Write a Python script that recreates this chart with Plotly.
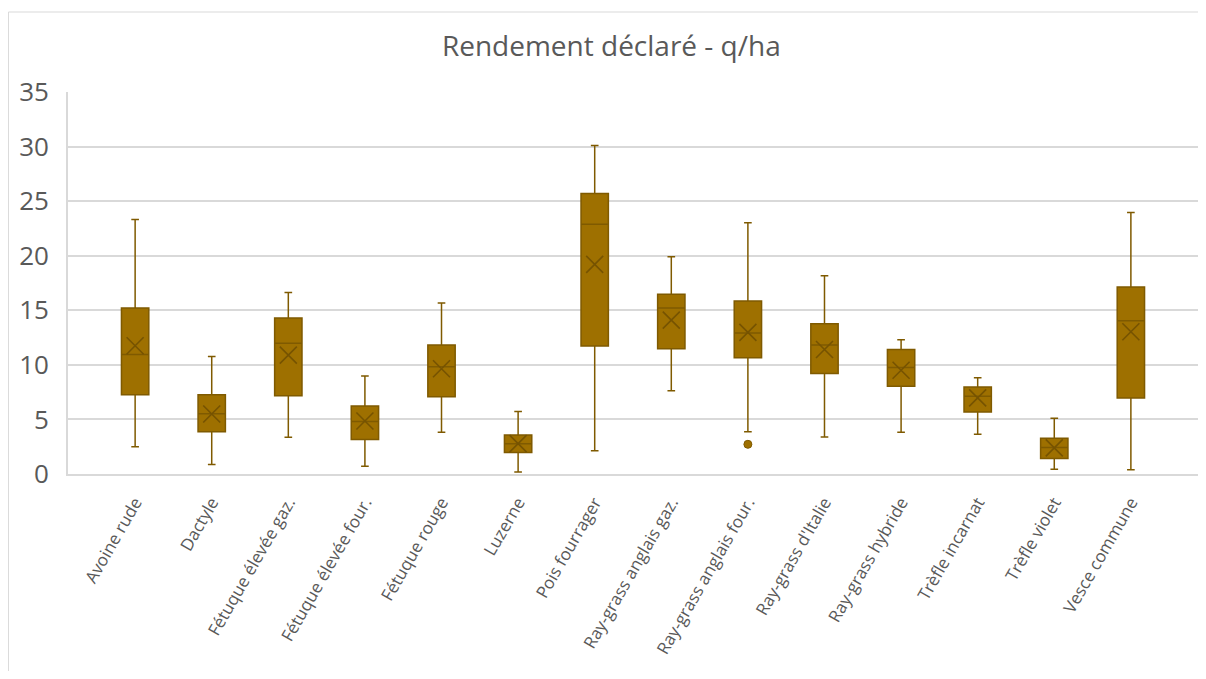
import plotly.graph_objects as go

# données (q/ha)
especes = [
    "Avoine rude", "Dactyle", "Fétuque élevée gaz.", "Fétuque élevée four.",
    "Fétuque rouge", "Luzerne", "Pois fourrager", "Ray-grass anglais gaz.",
    "Ray-grass anglais four.", "Ray-grass d'Italie", "Ray-grass hybride",
    "Trèfle incarnat", "Trèfle violet", "Vesce commune",
]
minimum = [2.5, 0.86, 3.36, 0.7, 3.82, 0.18, 2.14, 7.62, 3.88, 3.4, 3.82, 3.64, 0.43, 0.4]
q1 = [7.25, 3.88, 7.16, 3.15, 7.07, 1.96, 11.72, 11.47, 10.65, 9.21, 8.05, 5.69, 1.41, 6.97]
mediane = [10.95, 5.51, 11.99, 4.8, 9.82, 2.78, 22.88, 15.2, 12.91, 11.81, 9.76, 7.13, 2.42, 14.04]
q3 = [15.2, 7.25, 14.29, 6.24, 11.81, 3.58, 25.7, 16.46, 15.85, 13.77, 11.41, 7.98, 3.27, 17.13]
maximum = [23.31, 10.77, 16.64, 8.99, 15.66, 5.72, 30.1, 19.91, 23.03, 18.17, 12.3, 8.81, 5.11, 23.95]
moyenne = [11.75, 5.5, 10.89, 4.86, 9.64, 2.78, 19.21, 14.1, 12.97, 11.41, 9.51, 6.97, 2.39, 13.03]

outlier_x = ["Ray-grass anglais four."]
outlier_y = [2.72]

fill = "#9E7000"
edge = "#7F5A00"
txt = "#595959"
grid = "#D9D9D9"
police = "Open Sans"

fig = go.Figure()
fig.add_trace(go.Box(
    x=especes,
    q1=q1, median=mediane, q3=q3,
    lowerfence=minimum, upperfence=maximum,
    fillcolor=fill,
    line=dict(color=edge, width=1.5),
    whiskerwidth=0.28,
    boxpoints=False,
    showlegend=False,
    hoverinfo="skip",
))
# moyennes (croix)
fig.add_trace(go.Scatter(
    x=especes, y=moyenne, mode="markers",
    marker=dict(symbol="x-thin-open", size=17, color="#765300",
                line=dict(color="#765300", width=1.6)),
    showlegend=False, hoverinfo="skip",
))
# valeur aberrante
fig.add_trace(go.Scatter(
    x=outlier_x, y=outlier_y, mode="markers",
    marker=dict(symbol="circle", size=8, color=fill, line=dict(color=edge, width=1)),
    showlegend=False, hoverinfo="skip",
))

# la page ajoute 8 px de marge autour du graphique
fig.update_layout(
    width=1190, height=663,
    margin=dict(l=60, r=0, t=84, b=197),
    paper_bgcolor="white", plot_bgcolor="white",
    boxgap=0.49,
    title=dict(
        text="Rendement déclaré - q/ha",
        x=0.507, xanchor="center", y=0.9427, yanchor="middle",
        font=dict(family=police, size=28, color=txt),
    ),
    font=dict(family=police, color=txt),
    xaxis=dict(
        tickangle=-60, automargin=False,
        tickfont=dict(size=17, color=txt),
        ticks="outside", ticklen=10, tickcolor="rgba(0,0,0,0)",
        showgrid=False, showline=True, linecolor=grid, linewidth=1.5,
    ),
    yaxis=dict(
        range=[0, 35], dtick=5, automargin=False,
        tickfont=dict(size=26, color=txt),
        ticks="outside", ticklen=12, tickcolor="rgba(0,0,0,0)",
        showgrid=True, gridcolor=grid, gridwidth=1.8,
        showline=True, linecolor=grid, linewidth=1.8,
        zeroline=False,
    ),
    # cadre du graphique : bords gauche et haut (chemin ouvert)
    shapes=[dict(
        type="path", xref="paper", yref="paper",
        path="M -0.0527,-0.6 L -0.0527,1.2094 L 1.08,1.2094",
        line=dict(color=grid, width=1), fillcolor="rgba(0,0,0,0)",
        layer="below",
    )],
)

fig.write_html("out.html")
